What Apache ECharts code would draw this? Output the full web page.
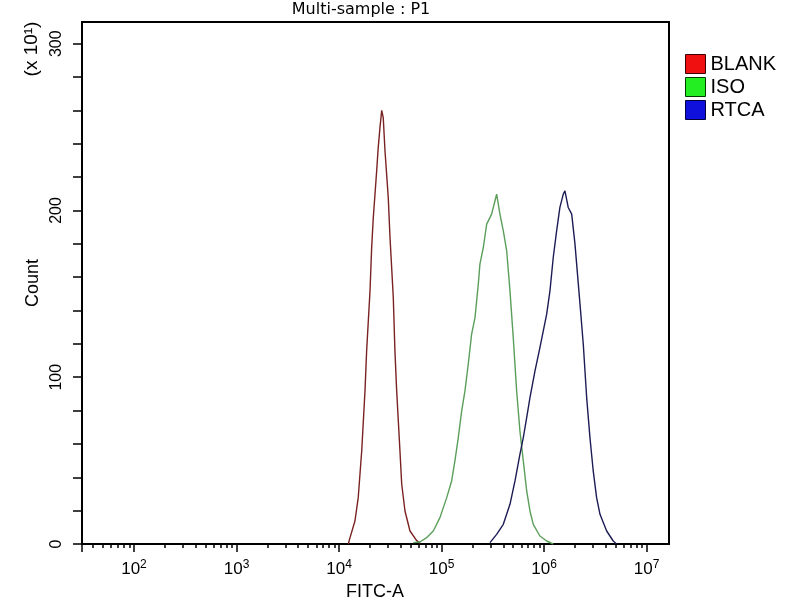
<!DOCTYPE html>
<html>
<head>
<meta charset="utf-8">
<script src="https://cdn.jsdelivr.net/npm/echarts@6/dist/echarts.min.js"></script>
<style>html,body{margin:0;padding:0;background:#fff}#c{width:800px;height:600px}</style>
</head>
<body>
<div id="c"></div>
<script>
// ---- data (x as log10 of FITC-A, y as count in units of 10^1) ----
var seriesNames = ['BLANK', 'ISO', 'RTCA'];
var blankLog = [4.090,4.107,4.155,4.187,4.221,4.253,4.269,4.302,4.318,4.334,4.367,4.382,4.399,4.416,4.431,4.448,4.480,4.497,4.529,4.545,4.562,4.594,4.611,4.643,4.692,4.757,4.789];
var blankCount = [0,3.8,13.8,27.8,55.8,91.8,115.8,151.8,177.7,195.7,223.8,237.7,249.7,260,255.7,235.8,207.7,183.7,147.8,115.8,91.8,55.8,36,19.8,7.8,2,0.5];
var isoLog = [4.724,4.789,4.854,4.919,4.984,5.050,5.098,5.130,5.163,5.196,5.228,5.260,5.293,5.326,5.358,5.374,5.407,5.440,5.488,5.521,5.537,5.569,5.602,5.635,5.667,5.699,5.732,5.764,5.797,5.830,5.862,5.894,5.959,6.025,6.089];
var isoCount = [0.8,1.2,3.8,7.8,15.8,27.8,37.8,49.8,63.8,79.8,91.8,107.8,125.8,135.8,155.8,167.8,177.8,191.8,197.8,205.8,209.8,197.8,187.8,175.8,151.8,123.8,91.8,67.8,49.8,31.8,19.8,11.8,4.8,1.8,0];
var rtcaLog = [5.472,5.537,5.602,5.667,5.716,5.764,5.797,5.830,5.862,5.911,5.959,5.992,6.025,6.057,6.089,6.122,6.154,6.187,6.203,6.235,6.269,6.301,6.350,6.382,6.415,6.447,6.479,6.512,6.545,6.610,6.674,6.707];
var rtcaCount = [0.8,5.8,11.8,23.8,37.8,53.8,63.8,75.8,87.8,103.8,117.8,127.8,137.8,151.8,171.8,187.8,201.8,209.8,211.8,201.8,197.8,179.8,143.8,119.8,87.8,63.8,43.8,27.8,17.8,7.8,1.8,0];
var xDecades = [2, 3, 4, 5, 6, 7];          // tick labels 10^n
var yLabelValues = [0, 100, 200, 300];
var yTickValues = [0,20,40,60,80,100,120,140,160,180,200,220,240,260,280,300];
var xMin = 1.493, xMax = 7.218, yMin = 0, yMax = 313;

function pairs(xs, ys){ return xs.map(function(x,i){ return [x, ys[i]]; }); }

var minorTicks = [];
for (var n = 1; n <= 7; n++) for (var k = 2; k <= 9; k++) {
  var v = n + Math.log10(k);
  if (v > xMin && v < xMax) minorTicks.push(v);
}
var majorTicks = [xMin].concat(xDecades);

var FONT = 'Liberation Sans, Arial, sans-serif';
var chart = echarts.init(document.getElementById('c'), null, {renderer: 'canvas'});
chart.setOption({
  animation: false,
  backgroundColor: '#fff',
  grid: {left: 82, right: 131, top: 22, bottom: 56, show: true, borderColor: '#000', borderWidth: 2, backgroundColor: 'transparent'},
  legend: {
    orient: 'vertical', left: 685, top: 54, itemWidth: 20, itemHeight: 19, itemGap: 3, icon: 'rect', padding: 0,
    textStyle: {fontSize: 20, fontFamily: FONT, color: '#000'},
    data: [
      {name: 'BLANK', itemStyle: {color: '#f01010', borderColor: '#3a0000', borderWidth: 1}},
      {name: 'ISO', itemStyle: {color: '#22ee22', borderColor: '#003a00', borderWidth: 1}},
      {name: 'RTCA', itemStyle: {color: '#1010dd', borderColor: '#00003a', borderWidth: 1}}
    ]
  },
  graphic: [
    {type: 'text', x: 361, y: 10, style: {text: 'Multi-sample : P1', font: '16px "DejaVu Sans", sans-serif', fill: '#000', align: 'center', verticalAlign: 'middle'}},
    {type: 'text', x: 33, y: 283, rotation: Math.PI / 2, style: {text: 'Count', font: '18px ' + FONT, fill: '#000', align: 'center', verticalAlign: 'middle'}},
    {type: 'text', x: 32, y: 49, rotation: Math.PI / 2, style: {text: '(x 10¹)', font: '19px ' + FONT, fill: '#000', align: 'center', verticalAlign: 'middle'}},
    {type: 'text', x: 375, y: 592, style: {text: 'FITC-A', font: '18px ' + FONT, fill: '#000', align: 'center', verticalAlign: 'middle'}}
  ],
  xAxis: [{
    type: 'value', min: xMin, max: xMax, position: 'bottom',
    axisLine: {onZero: false, lineStyle: {color: '#000', width: 2}},
    splitLine: {show: false},
    axisTick: {customValues: minorTicks, length: 4, lineStyle: {color: '#000', width: 1.5}},
    axisLabel: {
      customValues: xDecades, margin: 15, color: '#000', fontFamily: FONT,
      formatter: function(v){ return '{b|10}{s|' + Math.round(v) + '}'; },
      rich: {b: {fontSize: 17, fontFamily: FONT, color: '#000'}, s: {fontSize: 12, fontFamily: FONT, color: '#000', padding: [0,0,9,0]}}
    }
  }, {
    type: 'value', min: xMin, max: xMax, position: 'bottom',
    axisLine: {show: false}, splitLine: {show: false},
    axisTick: {customValues: majorTicks, length: 8, lineStyle: {color: '#000', width: 1.5}},
    axisLabel: {show: false}
  }],
  yAxis: {
    type: 'value', min: yMin, max: yMax,
    axisLine: {lineStyle: {color: '#000', width: 2}},
    splitLine: {show: false},
    axisTick: {customValues: yTickValues, length: 9, lineStyle: {color: '#000', width: 1.5}},
    axisLabel: {customValues: yLabelValues, rotate: 90, margin: 17, fontSize: 16, fontFamily: FONT, color: '#000'}
  },
  series: [
    {name: seriesNames[0], type: 'line', showSymbol: false, data: pairs(blankLog, blankCount), lineStyle: {color: '#7a2222', width: 1.4}, itemStyle: {color: '#f01010'}},
    {name: seriesNames[1], type: 'line', showSymbol: false, data: pairs(isoLog, isoCount), lineStyle: {color: '#5a9e5a', width: 1.4}, itemStyle: {color: '#22ee22'}},
    {name: seriesNames[2], type: 'line', showSymbol: false, data: pairs(rtcaLog, rtcaCount), lineStyle: {color: '#1c1c55', width: 1.4}, itemStyle: {color: '#1010dd'}}
  ]
});
</script>
</body>
</html>
